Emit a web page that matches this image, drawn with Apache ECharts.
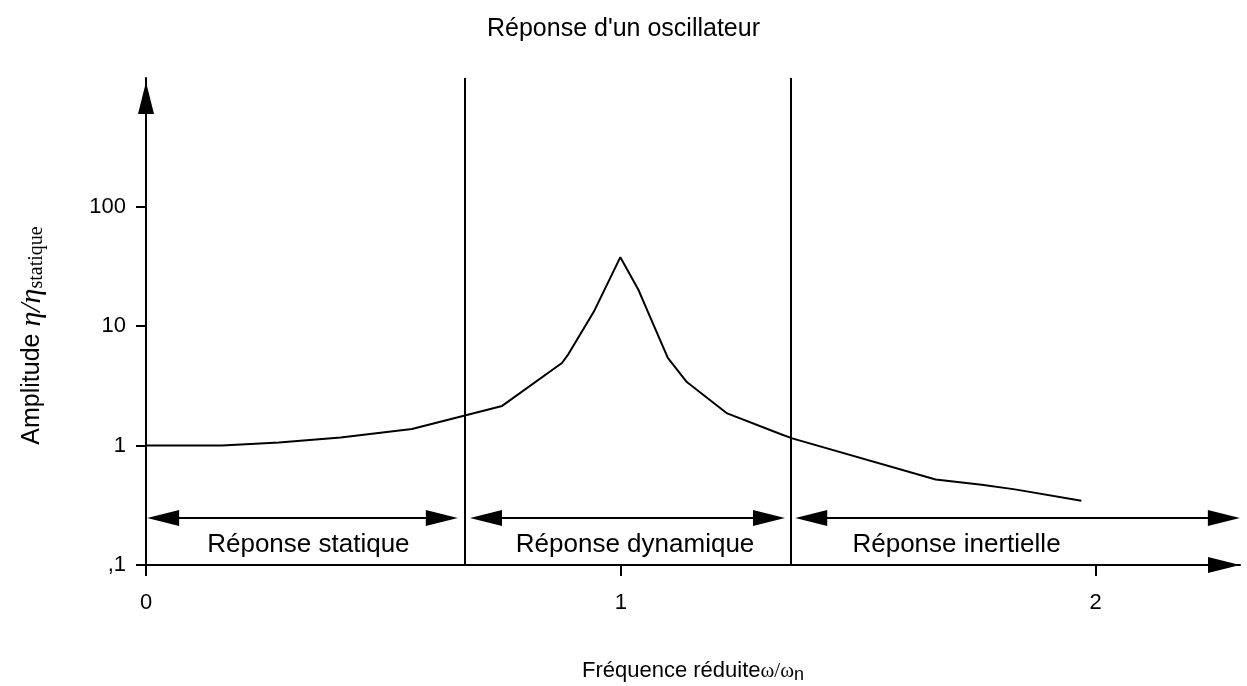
<!DOCTYPE html>
<html>
<head>
<meta charset="utf-8">
<title>Réponse d'un oscillateur</title>
<script src="https://cdn.jsdelivr.net/npm/echarts@6/dist/echarts.min.js"></script>
<style>
html, body { margin: 0; padding: 0; background: #fff; }
#main { width: 1247px; height: 686px; }
</style>
</head>
<body>
<div id="main"></div>
<script>
// courbe : fréquence réduite -> amplitude relative
var freq = [0, 0.16, 0.28, 0.41, 0.56, 0.75, 0.876, 0.89, 0.943, 0.999, 1.037, 1.055, 1.099, 1.139, 1.224, 1.336, 1.361, 1.663, 1.76, 1.83, 1.97];
var amplitude = [1, 1, 1.06, 1.17, 1.38, 2.15, 4.92, 5.87, 13.2, 37.9, 20.2, 13.8, 5.44, 3.41, 1.86, 1.25, 1.15, 0.52, 0.47, 0.43, 0.345];

var xTicks = [0, 1, 2];
var yTicks = [0.1, 1, 10, 100];

// zones de réponse
var zoneLimits = [0.672, 1.357];
var zoneNames = ['Réponse statique', 'Réponse dynamique', 'Réponse inertielle'];
var zoneArrows = [[0.036, 0.623], [0.716, 1.312], [1.401, 2.27]];
var zoneLabelX = [0.342, 1.03, 1.707];
var arrowLevel = 0.248;
var labelLevel = 0.147;

var SANS = 'Liberation Sans, Arial, Helvetica, sans-serif';
var SERIF = 'Liberation Serif, Times New Roman, serif';

var myChart = echarts.init(document.getElementById('main'));

var curve = freq.map(function (x, i) { return [x, amplitude[i]]; });

var option = {
  animation: false,
  backgroundColor: '#fff',
  title: {
    text: "Réponse d'un oscillateur",
    left: 'center',
    top: 12,
    textStyle: { fontFamily: SANS, fontSize: 25, fontWeight: 'normal', color: '#000' }
  },
  grid: { left: 146, right: 7, top: 78, bottom: 121, containLabel: false, outerBoundsMode: 'none' },
  xAxis: {
    type: 'value',
    min: 0,
    max: 2.304,
    interval: 1,
    name: '{a|Fréquence réduite}{w|ω/ω}{n|n}',
    nameLocation: 'middle',
    nameGap: 92,
    nameTextStyle: {
      rich: {
        a: { fontFamily: SANS, fontSize: 22, color: '#000', lineHeight: 28 },
        w: { fontFamily: SERIF, fontSize: 21, color: '#000', lineHeight: 28 },
        n: { fontFamily: SANS, fontSize: 18, color: '#000', lineHeight: 20, padding: [8, 0, 0, 0] }
      }
    },
    axisLine: {
      onZero: false,
      lineStyle: { color: '#000', width: 2 },
      symbol: ['none', 'triangle'],
      symbolSize: [16, 32],
      symbolOffset: [0, -16]
    },
    axisTick: { show: true, length: 11, lineStyle: { color: '#000', width: 2 }, customValues: xTicks },
    axisLabel: { customValues: xTicks, fontFamily: SANS, fontSize: 22, color: '#000', margin: 27 },
    splitLine: { show: false }
  },
  yAxis: {
    type: 'log',
    logBase: 10,
    min: 0.1,
    max: 1200,
    name: '{a|Amplitude }{e|η/η}{s|statique}',
    nameLocation: 'middle',
    nameRotate: 90,
    nameGap: 98,
    nameTextStyle: {
      rich: {
        a: { fontFamily: SANS, fontSize: 25, color: '#000', lineHeight: 32 },
        e: { fontFamily: SERIF, fontStyle: 'italic', fontSize: 30, color: '#000', lineHeight: 32 },
        s: { fontFamily: SERIF, fontSize: 20, color: '#000', lineHeight: 22, padding: [10, 28, 0, 0] }
      }
    },
    axisLine: {
      lineStyle: { color: '#000', width: 2 },
      symbol: ['none', 'triangle'],
      symbolSize: [16, 32],
      symbolOffset: [0, -20]
    },
    axisTick: { show: true, length: 10, lineStyle: { color: '#000', width: 2 }, customValues: yTicks },
    axisLabel: {
      customValues: yTicks,
      fontFamily: SANS,
      fontSize: 22,
      color: '#000',
      margin: 20,
      formatter: function (v) {
        if (Math.abs(v - 0.1) < 1e-6) return ',1';
        return String(Math.round(v));
      }
    },
    splitLine: { show: false }
  },
  series: [
    {
      name: 'Amplitude',
      type: 'line',
      data: curve,
      symbol: 'none',
      lineStyle: { color: '#000', width: 2 },
      markLine: {
        silent: true,
        symbol: ['none', 'none'],
        label: { show: false },
        lineStyle: { color: '#000', width: 2, type: 'solid' },
        data: zoneLimits.map(function (x) {
          return [{ coord: [x, 0.1] }, { coord: [x, 1200] }];
        })
      }
    },
    {
      name: 'zones',
      type: 'scatter',
      data: zoneLabelX.map(function (x, i) { return { value: [x, labelLevel], name: zoneNames[i] }; }),
      symbolSize: 0,
      itemStyle: { color: '#000', opacity: 1 },
      label: {
        show: true,
        position: 'inside',
        formatter: '{b}',
        fontFamily: SANS,
        fontSize: 26,
        color: '#000'
      },
      markLine: {
        silent: true,
        symbol: ['triangle', 'triangle'],
        symbolSize: [16, 32],
        label: { show: false },
        lineStyle: { color: '#000', width: 2, type: 'solid' },
        data: zoneArrows.map(function (a) {
          return [{ coord: [a[0], arrowLevel] }, { coord: [a[1], arrowLevel] }];
        })
      }
    }
  ]
};

myChart.setOption(option);
</script>
</body>
</html>
